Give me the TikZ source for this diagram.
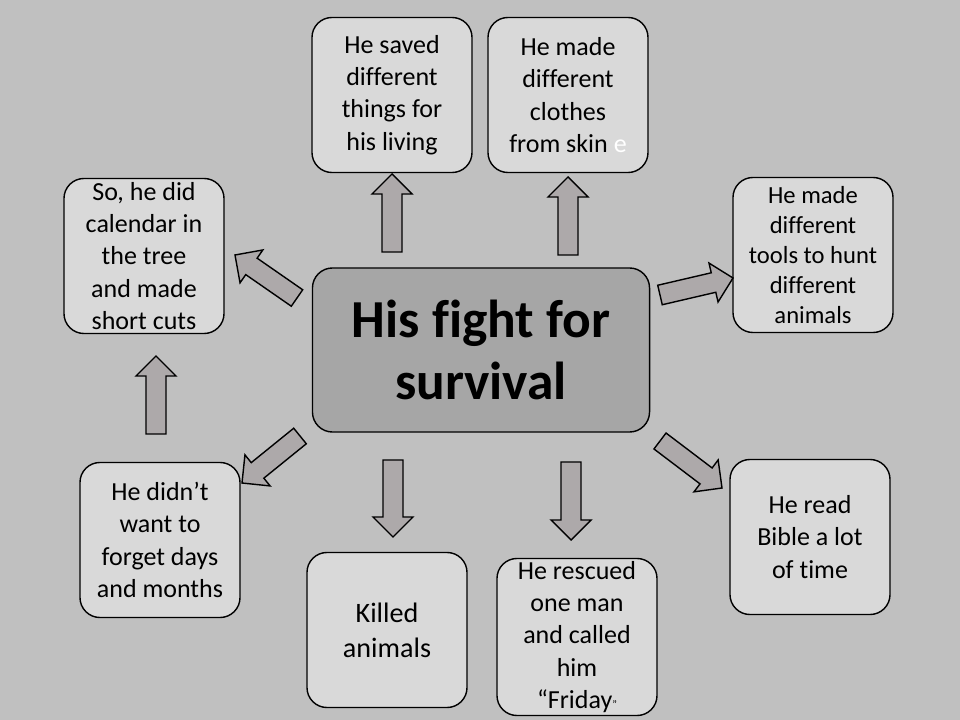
\documentclass[tikz,border=0pt]{standalone}
\usepackage{fontspec}
\setmainfont{Carlito}[Ligatures={NoCommon,NoContextual}]
\usetikzlibrary{calc}
\definecolor{slide}{HTML}{C0C0C0}
\definecolor{boxgray}{HTML}{D9D9D9}
\definecolor{hubgray}{HTML}{A6A6A6}
\definecolor{arrowgray}{HTML}{ADA9AA}
\begin{document}
\begin{tikzpicture}
  [x=0.025cm,y=-0.025cm,every node/.style={draw,rounded corners=0.5cm,fill=boxgray,align=center,line width=1pt,minimum width=4cm,minimum height=3.875cm,inner sep=1pt,font=\fontsize{18.5}{23}\selectfont}]
  \tikzstyle{hub} = [fill=hubgray,minimum width=8.425cm,minimum height=4.1cm,font=\bfseries\fontsize{38}{44}\selectfont]
  \tikzstyle{small} = [font=\fontsize{17.5}{21.3}\selectfont]
  \tikzstyle{big} = [font=\fontsize{20}{25}\selectfont]
  \tikzstyle{blockarrow} = [draw,fill=arrowgray,line width=1pt,line join=miter]
  \fill[slide] (0,0) rectangle (960,720);

  \node[hub] (fight) at (481,350) {His fight for\\survival};
  \node (saved) at (392,95) {He saved\\different\\things for\\his living};
  \node (clothes) at (568,95) {He made\\different\\clothes\\from skin \textcolor{white}{e}};
  \node (calendar) at (144,256) {So, he did\\calendar in\\the tree\\and made\\short cuts};
  \node[small] (tools) at (813,255) {He made\\different\\tools to hunt\\different\\animals};
  \node (forget) at (160,540) {He didn’t\\want to\\forget days\\and months};
  \node[big] (killed) at (387,630) {Killed\\animals};
  \node[minimum height=3.925cm] (friday) at (577,637) {He rescued\\one man\\and called\\him\\“Friday{\footnotesize ”}};
  \node (bible) at (810,537) {He read\\Bible a lot\\of time};

  % block arrows: tail / tip
  \coordinate (s1) at (392,252); \coordinate (t1) at (392,174);
  \coordinate (s2) at (568,255); \coordinate (t2) at (568,177);
  \coordinate (s3) at (297,298); \coordinate (t3) at (235,255);
  \coordinate (s4) at (660,295); \coordinate (t4) at (733,278);
  \coordinate (s5) at (660,441); \coordinate (t5) at (722,488);
  \coordinate (s6) at (571,462); \coordinate (t6) at (571,540);
  \coordinate (s7) at (393,460); \coordinate (t7) at (393,537);
  \coordinate (s8) at (300,436); \coordinate (t8) at (242,483);
  \coordinate (s9) at (156,434); \coordinate (t9) at (156,356);

\foreach \source /\dest in {s1/t1,s2/t2,s3/t3,s4/t4,s5/t5,s6/t6,s7/t7,s8/t8,s9/t9} {
   \coordinate (hb) at ($(\dest)!0.5cm!(\source)$);
   \draw[blockarrow] ($(\source)!0.25cm!90:(\dest)$) -- ($(hb)!0.25cm!90:(\dest)$)
     -- ($(hb)!0.5cm!90:(\dest)$) -- (\dest) -- ($(hb)!0.5cm!-90:(\dest)$)
     -- ($(hb)!0.25cm!-90:(\dest)$) -- ($(\source)!0.25cm!-90:(\dest)$) -- cycle;
}
  \end{tikzpicture}
\end{document}
